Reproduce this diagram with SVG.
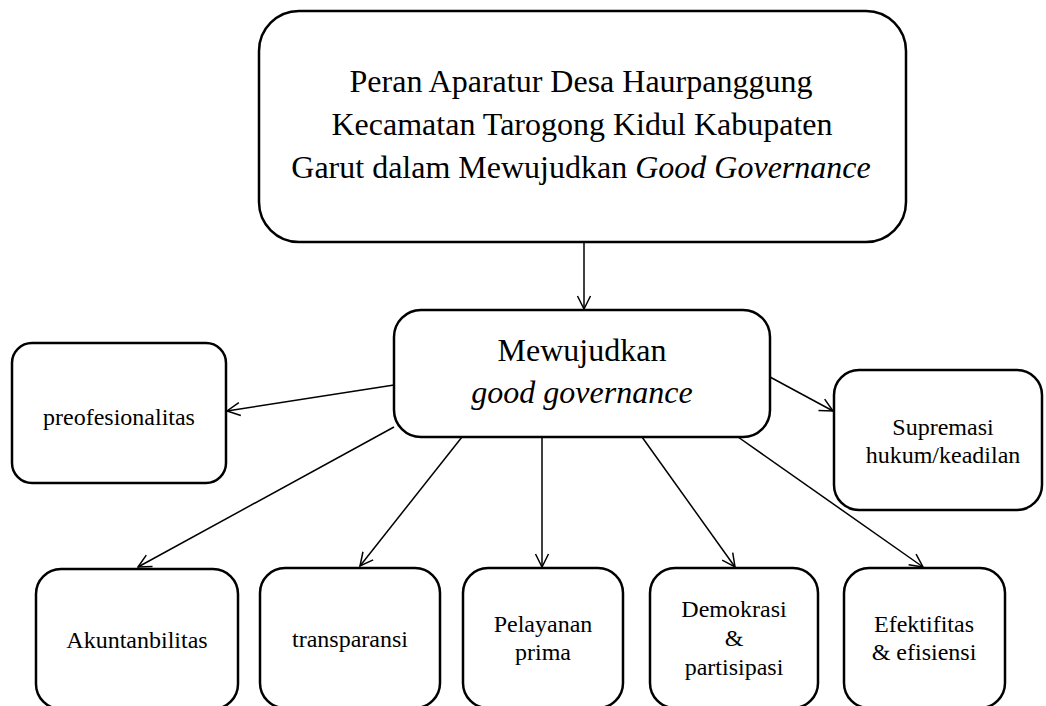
<svg xmlns="http://www.w3.org/2000/svg" width="1046" height="706" viewBox="0 0 1046 706">
<style>
  .box { fill: #ffffff; stroke: #000000; stroke-width: 2.5; }
  .t { font-family: "Liberation Serif", "Times New Roman", serif; fill: #000000; text-anchor: middle; }
  .big { font-size: 32px; }
  .sm { font-size: 24px; }
  .it { font-style: italic; }
  .conn { stroke: #000000; stroke-width: 1.5; fill: none; marker-end: url(#arr); }
</style>
<defs>
  <marker id="arr" viewBox="0 0 16 16" markerWidth="16" markerHeight="16" refX="15" refY="8" orient="auto" markerUnits="userSpaceOnUse">
    <path d="M2,1.5 L15,8 L2,14.5" fill="none" stroke="#000000" stroke-width="1.5"/>
  </marker>
</defs>
<rect width="1046" height="706" fill="#ffffff"/>
<g id="connectors">
  <line class="conn" x1="584" y1="242" x2="584" y2="309"/>
  <line class="conn" x1="394" y1="385" x2="227" y2="411"/>
  <line class="conn" x1="770" y1="377" x2="833" y2="411"/>
  <line class="conn" x1="394" y1="427" x2="138" y2="567"/>
  <line class="conn" x1="462" y1="437" x2="360" y2="566"/>
  <line class="conn" x1="542" y1="437" x2="542" y2="567"/>
  <line class="conn" x1="642" y1="437" x2="735" y2="567"/>
  <line class="conn" x1="738" y1="437" x2="923" y2="567"/>
</g>
<g id="top">
  <rect class="box" x="259" y="11" width="647" height="231" rx="40" ry="40"/>
  <text class="t big" x="581" y="92">Peran Aparatur Desa Haurpanggung</text>
  <text class="t big" x="582" y="135">Kecamatan Tarogong Kidul Kabupaten</text>
  <text class="t big" x="581" y="178">Garut dalam Mewujudkan <tspan class="it">Good Governance</tspan></text>
</g>
<g id="center">
  <rect class="box" x="394" y="310" width="376" height="127" rx="27" ry="27"/>
  <text class="t big" x="582" y="361">Mewujudkan</text>
  <text class="t big it" x="582" y="403">good governance</text>
</g>
<g id="preofesionalitas">
  <rect class="box" x="12" y="343" width="214" height="140" rx="20" ry="20"/>
  <text class="t sm" x="119" y="425">preofesionalitas</text>
</g>
<g id="supremasi">
  <rect class="box" x="834" y="370" width="208" height="140" rx="25" ry="25"/>
  <text class="t sm" x="943" y="435">Supremasi</text>
  <text class="t sm" x="943" y="463">hukum/keadilan</text>
</g>
<g id="akuntanbilitas">
  <rect class="box" x="36" y="569" width="202" height="140" rx="25" ry="25"/>
  <text class="t sm" x="137" y="648">Akuntanbilitas</text>
</g>
<g id="transparansi">
  <rect class="box" x="260" y="568" width="180" height="140" rx="25" ry="25"/>
  <text class="t sm" x="350" y="647">transparansi</text>
</g>
<g id="pelayanan">
  <rect class="box" x="463" y="568" width="160" height="140" rx="25" ry="25"/>
  <text class="t sm" x="543" y="632">Pelayanan</text>
  <text class="t sm" x="543" y="660">prima</text>
</g>
<g id="demokrasi">
  <rect class="box" x="650" y="568" width="168" height="140" rx="25" ry="25"/>
  <text class="t sm" x="734" y="617">Demokrasi</text>
  <text class="t sm" x="734" y="646">&amp;</text>
  <text class="t sm" x="734" y="675">partisipasi</text>
</g>
<g id="efektifitas">
  <rect class="box" x="844" y="568" width="161" height="140" rx="25" ry="25"/>
  <text class="t sm" x="924" y="632">Efektifitas</text>
  <text class="t sm" x="924" y="660">&amp; efisiensi</text>
</g>
</svg>
